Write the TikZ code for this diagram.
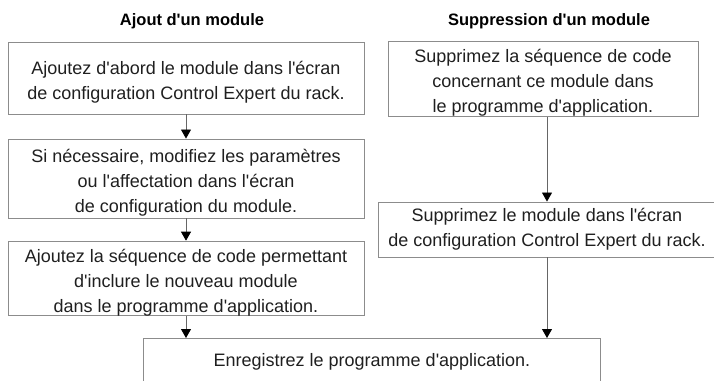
\documentclass[tikz,border=0pt]{standalone}
\usepackage{fontspec}
\setmainfont{Liberation Sans}
\usetikzlibrary{arrows.meta,calc}
\newcommand{\q}{\textquotesingle}
% taller first line: pushes the text block slightly down in its box
\newcommand{\firstline}{\rule{0pt}{21pt}}
\tikzset{
  boxline/.style={draw=black!45, line width=0.9pt},
  stepbox/.style={boxline, align=center, inner sep=0pt, font=\fontsize{18}{25}\selectfont, text=black!88},
  heading/.style={font=\fontsize{16.5}{20}\selectfont\bfseries, text=black},
  arr/.style={draw=black!60, line width=0.8pt, -{Triangle[width=10pt,length=9pt,black]}},
}
\begin{document}
\begin{tikzpicture}[x=1pt,y=-1pt]
  \useasboundingbox (0,0) rectangle (714,380);
  \clip (0,0) rectangle (714,380);

  % column headings
  \node[heading] (hadd) at (192,21) {Ajout d\q un module};
  \node[heading] (hdel) at (549,21) {Suppression d\q un module};

  % left column: adding a module
  \node[stepbox, minimum width=356pt, minimum height=72pt] (b1) at (186,78)
    {\firstline Ajoutez d\q abord le module dans l\q écran\\de configuration Control Expert du rack.};
  \node[stepbox, minimum width=356pt, minimum height=79pt] (b2) at (186,178.5)
    {\firstline Si nécessaire, modifiez les paramètres\\ou l\q affectation dans l\q écran\\de configuration du module.};
  \node[stepbox, minimum width=356pt, minimum height=73pt] (b3) at (186,278.5)
    {\firstline Ajoutez la séquence de code permettant\\d\q inclure le nouveau module\\dans le programme d\q application.};

  % right column: removing a module
  \node[stepbox, minimum width=310pt, minimum height=74pt] (r1) at (543,79)
    {\firstline Supprimez la séquence de code\\concernant ce module dans\\le programme d\q application.};
  \node[stepbox, minimum width=338pt, minimum height=55pt] (r2) at (547,229.5)
    {Supprimez le module dans l\q écran\\de configuration Control Expert du rack.};

  % common final step (open at the bottom edge)
  \node[stepbox, minimum width=457pt, minimum height=60pt, anchor=north] (fin) at (371.5,338) {};
  \node[font=\fontsize{18}{22}\selectfont, text=black!88] (fintext) at (372,362)
    {Enregistrez le programme d\q application.};

  % connectors
  \draw[arr] (b1.south) -- (b2.north);
  \draw[arr] (b2.south) -- (b3.north);
  \draw[arr] (b3.south) -- (b3.south |- fin.north);
  \draw[arr] (r2.north |- r1.south) -- (r2.north);
  \draw[arr] (r2.south) -- (r2.south |- fin.north);
\end{tikzpicture}
\end{document}
